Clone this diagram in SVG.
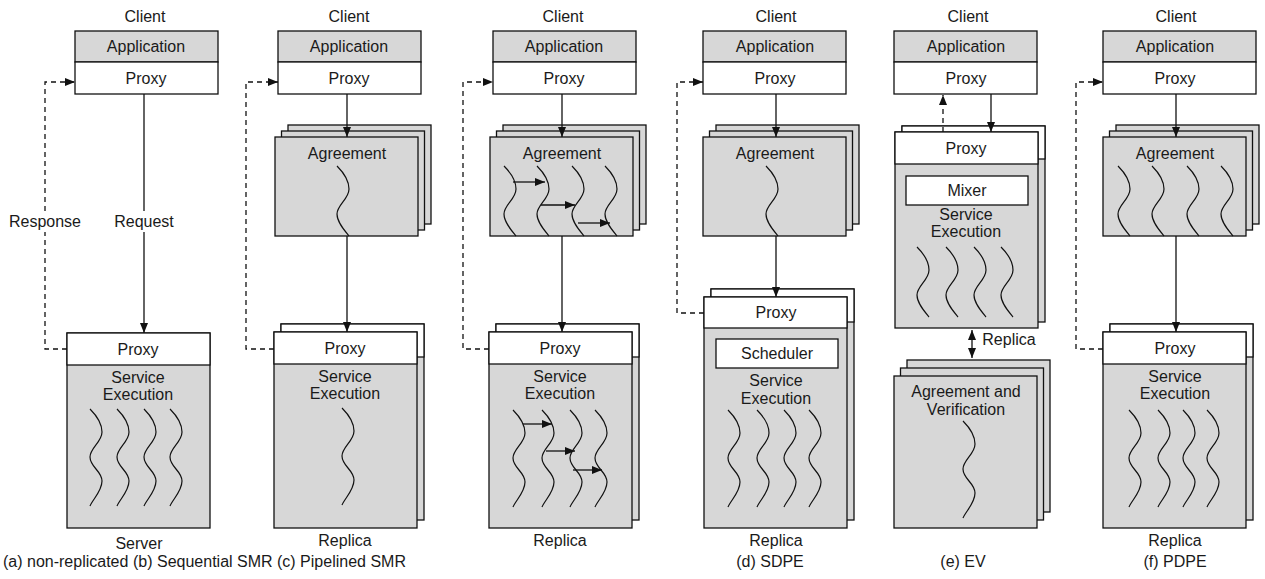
<svg xmlns="http://www.w3.org/2000/svg" xmlns:xlink="http://www.w3.org/1999/xlink" width="1265" height="579" viewBox="0 0 1265 579">
<defs>
<style>
text{font-family:"Liberation Sans",Arial,Helvetica,sans-serif;font-size:16px;fill:#1a1a1a;text-anchor:middle}
.cap{font-size:16px;text-anchor:start}
.g{fill:#d7d7d7;stroke:#111;stroke-width:1.3}
.w{fill:#fff;stroke:#111;stroke-width:1.3}
.ln{fill:none;stroke:#111;stroke-width:1.3}
.ds{fill:none;stroke:#111;stroke-width:1.3;stroke-dasharray:5,4}
.ar{marker-end:url(#ah)}
.th{fill:none;stroke:#111;stroke-width:1.2}
</style>
<marker id="ah" markerUnits="userSpaceOnUse" markerWidth="10" markerHeight="8" refX="10" refY="4" orient="auto-start-reverse"><path d="M0,0 L10,4 L0,8 z" fill="#111"/></marker>
<path id="thr" class="th" d="M0,0 C6,6 12,14 12,23 C12,33 0,39 0,48 C0,56 7,64 12,70"/>
<path id="thl" class="th" d="M0,0 C6,6 12,14 12,23 C12,33 0,39 0,48 C0,58 12,62 12,72 C12,82 3,90 0,97"/>
</defs>
<rect width="1265" height="579" fill="#fff"/>

<!-- (a) -->
<g id="a-client">
<text x="145" y="21.5">Client</text>
<rect class="g" x="75" y="31" width="143" height="31"/>
<rect class="w" x="75" y="62" width="143" height="32"/>
<text x="146" y="52">Application</text>
<text x="146" y="84">Proxy</text>
</g>
<g id="a-server">
<rect class="g" x="67" y="333" width="143" height="195"/>
<rect class="w" x="67" y="333" width="143" height="32"/>
<text x="138" y="354.5">Proxy</text>
<text x="138" y="382.5">Service</text>
<text x="138" y="400">Execution</text>
<use href="#thl" x="90" y="409"/><use href="#thl" x="117" y="409"/><use href="#thl" x="144" y="409"/><use href="#thl" x="170" y="409"/>
<text x="139" y="549">Server</text>
</g>

<!-- (b) -->
<g id="b-client">
<text x="349" y="21.5">Client</text>
<rect class="g" x="278" y="31" width="143" height="31"/>
<rect class="w" x="278" y="62" width="143" height="32"/>
<text x="349" y="52">Application</text>
<text x="349" y="84">Proxy</text>
</g>
<g id="b-agreement">
<rect class="g" x="288" y="125" width="143" height="99"/>
<rect class="g" x="281.5" y="131" width="143" height="99"/>
<rect class="g" x="275" y="137" width="143" height="99"/>
<text x="347" y="158.5">Agreement</text>
<use href="#thr" x="337" y="166"/>
</g>
<g id="b-replica">
<rect class="g" x="281" y="324" width="143" height="196"/>
<rect class="w" x="281" y="324" width="143" height="33"/>
<rect class="g" x="274" y="332" width="143" height="196"/>
<rect class="w" x="274" y="332" width="143" height="32"/>
<text x="345" y="353.5">Proxy</text>
<text x="345" y="381.5">Service</text>
<text x="345" y="399">Execution</text>
<use href="#thl" x="342" y="408"/>
<text x="345" y="546">Replica</text>
</g>

<!-- (c) -->
<g id="c-client">
<text x="563" y="21.5">Client</text>
<rect class="g" x="493" y="31" width="143" height="31"/>
<rect class="w" x="493" y="62" width="143" height="32"/>
<text x="564" y="52">Application</text>
<text x="564" y="84">Proxy</text>
</g>
<g id="c-agreement">
<rect class="g" x="503" y="125" width="143" height="99"/>
<rect class="g" x="496.5" y="131" width="143" height="99"/>
<rect class="g" x="490" y="137" width="143" height="99"/>
<text x="562" y="158.5">Agreement</text>
<use href="#thr" x="504" y="166"/><use href="#thr" x="537" y="166"/><use href="#thr" x="572" y="166"/><use href="#thr" x="605" y="166"/>
<line class="ln ar" x1="513" y1="182" x2="545" y2="182"/>
<line class="ln ar" x1="541" y1="205" x2="575" y2="205"/>
<line class="ln ar" x1="578" y1="223" x2="610" y2="223"/>
</g>
<g id="c-replica">
<rect class="g" x="496" y="324" width="143" height="196"/>
<rect class="w" x="496" y="324" width="143" height="33"/>
<rect class="g" x="489" y="332" width="143" height="196"/>
<rect class="w" x="489" y="332" width="143" height="32"/>
<text x="560" y="353.5">Proxy</text>
<text x="560" y="381.5">Service</text>
<text x="560" y="399">Execution</text>
<use href="#thl" x="513" y="410"/><use href="#thl" x="542" y="410"/><use href="#thl" x="570" y="410"/><use href="#thl" x="595" y="410"/>
<line class="ln ar" x1="523" y1="424" x2="552" y2="424"/>
<line class="ln ar" x1="546" y1="451" x2="575" y2="451"/>
<line class="ln ar" x1="573" y1="470" x2="602" y2="470"/>
<text x="560" y="546">Replica</text>
</g>

<!-- (d) -->
<g id="d-client">
<text x="776" y="21.5">Client</text>
<rect class="g" x="703" y="31" width="143" height="31"/>
<rect class="w" x="703" y="62" width="143" height="32"/>
<text x="775" y="52">Application</text>
<text x="775" y="84">Proxy</text>
</g>
<g id="d-agreement">
<rect class="g" x="716" y="125" width="143" height="99"/>
<rect class="g" x="709.5" y="131" width="143" height="99"/>
<rect class="g" x="703" y="137" width="143" height="99"/>
<text x="775" y="158.5">Agreement</text>
<use href="#thr" x="766" y="166"/>
</g>
<g id="d-replica">
<rect class="g" x="711" y="289" width="143" height="231"/>
<rect class="w" x="711" y="289" width="143" height="33"/>
<rect class="g" x="704" y="297" width="143" height="231"/>
<rect class="w" x="704" y="297" width="143" height="31"/>
<text x="776" y="318">Proxy</text>
<rect class="w" x="716" y="339" width="122" height="29"/>
<text x="777" y="358.5">Scheduler</text>
<text x="776" y="386">Service</text>
<text x="776" y="403.5">Execution</text>
<use href="#thl" x="728" y="410"/><use href="#thl" x="757" y="410"/><use href="#thl" x="784" y="410"/><use href="#thl" x="809" y="410"/>
<text x="776" y="546">Replica</text>
</g>

<!-- (e) -->
<g id="e-client">
<text x="968" y="21.5">Client</text>
<rect class="g" x="894" y="31" width="143" height="31"/>
<rect class="w" x="894" y="62" width="143" height="32"/>
<text x="966" y="52">Application</text>
<text x="966" y="84">Proxy</text>
</g>
<g id="e-execution">
<rect class="g" x="902" y="126" width="143" height="196"/>
<rect class="w" x="902" y="126" width="143" height="33"/>
<rect class="g" x="895" y="132" width="143" height="196"/>
<rect class="w" x="895" y="132" width="143" height="32"/>
<text x="966" y="153.5">Proxy</text>
<rect class="w" x="906" y="176" width="122" height="29"/>
<text x="967" y="196">Mixer</text>
<text x="966" y="219.5">Service</text>
<text x="966" y="237">Execution</text>
<use href="#thr" x="917" y="247"/><use href="#thr" x="946" y="247"/><use href="#thr" x="974" y="247"/><use href="#thr" x="1001" y="247"/>
</g>
<g id="e-replica-label">
<text x="1009" y="344.5">Replica</text>
</g>
<g id="e-agreement">
<rect class="g" x="907" y="360" width="143" height="152"/>
<rect class="g" x="900.5" y="368" width="143" height="152"/>
<rect class="g" x="894" y="376" width="143" height="152"/>
<text x="966" y="396.5">Agreement and</text>
<text x="966" y="414.5">Verification</text>
<use href="#thl" x="963" y="421"/>
</g>

<!-- (f) -->
<g id="f-client">
<text x="1176" y="21.5">Client</text>
<rect class="g" x="1103" y="31" width="153" height="31"/>
<rect class="w" x="1103" y="62" width="153" height="32"/>
<text x="1175" y="52">Application</text>
<text x="1175" y="84">Proxy</text>
</g>
<g id="f-agreement">
<rect class="g" x="1116" y="125" width="143" height="99"/>
<rect class="g" x="1109.5" y="131" width="143" height="99"/>
<rect class="g" x="1103" y="137" width="143" height="99"/>
<text x="1175" y="158.5">Agreement</text>
<use href="#thr" x="1118" y="166"/><use href="#thr" x="1152" y="166"/><use href="#thr" x="1187" y="166"/><use href="#thr" x="1221" y="166"/>
</g>
<g id="f-replica">
<rect class="g" x="1110" y="324" width="143" height="196"/>
<rect class="w" x="1110" y="324" width="143" height="33"/>
<rect class="g" x="1103" y="332" width="143" height="196"/>
<rect class="w" x="1103" y="332" width="143" height="32"/>
<text x="1175" y="353.5">Proxy</text>
<text x="1175" y="381.5">Service</text>
<text x="1175" y="399">Execution</text>
<use href="#thl" x="1129" y="410"/><use href="#thl" x="1158" y="410"/><use href="#thl" x="1183" y="410"/><use href="#thl" x="1207" y="410"/>
<text x="1175" y="546">Replica</text>
</g>

<!-- connectors -->
<g id="connectors">
<line class="ln" x1="144" y1="94" x2="144" y2="211"/>
<line class="ln ar" x1="144" y1="232" x2="144" y2="333"/>
<text x="144" y="226.5">Request</text>
<polyline class="ds" points="67,349 45,349 45,232"/>
<polyline class="ds ar" points="45,211 45,82 75,82"/>
<text x="45" y="226.5">Response</text>

<line class="ln ar" x1="347" y1="94" x2="347" y2="137"/>
<line class="ln ar" x1="347" y1="236" x2="347" y2="332"/>
<polyline class="ds ar" points="274,349 246,349 246,82 278,82"/>

<line class="ln ar" x1="562" y1="94" x2="562" y2="137"/>
<line class="ln ar" x1="562" y1="236" x2="562" y2="332"/>
<polyline class="ds ar" points="489,349 463,349 463,82 493,82"/>

<line class="ln ar" x1="776" y1="94" x2="776" y2="137"/>
<line class="ln ar" x1="776" y1="236" x2="776" y2="297"/>
<polyline class="ds ar" points="704,313 677,313 677,82 703,82"/>

<line class="ln ar" x1="991" y1="94" x2="991" y2="132"/>
<line class="ds ar" x1="943" y1="132" x2="943" y2="95"/>
<line class="ln ar" x1="972" y1="330" x2="972" y2="358" style="marker-start:url(#ah)"/>

<line class="ln ar" x1="1176" y1="94" x2="1176" y2="137"/>
<line class="ln ar" x1="1176" y1="236" x2="1176" y2="332"/>
<polyline class="ds ar" points="1103,349 1076,349 1076,82 1103,82"/>
</g>

<!-- captions -->
<g id="captions">
<text class="cap" x="3" y="567">(a) non-replicated</text>
<text class="cap" x="133" y="567">(b) Sequential SMR</text>
<text class="cap" x="277" y="567">(c) Pipelined SMR</text>
<text x="770" y="567">(d) SDPE</text>
<text x="963" y="567">(e) EV</text>
<text x="1175" y="567">(f) PDPE</text>
</g>
</svg>
